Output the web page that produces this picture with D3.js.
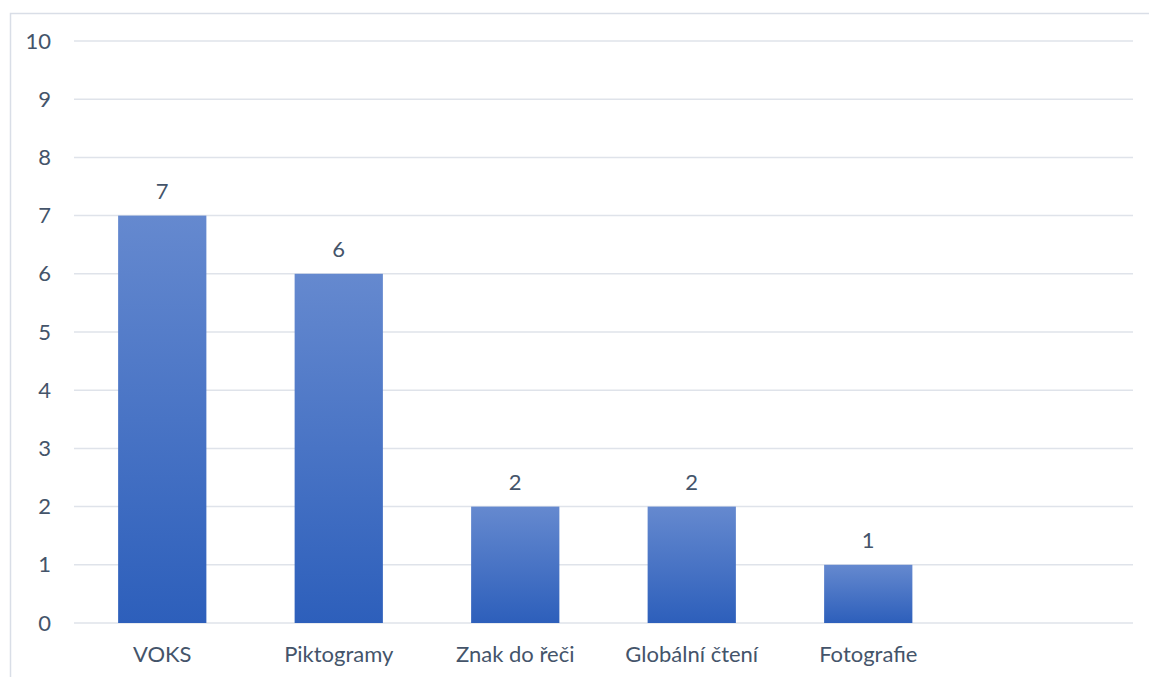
<!DOCTYPE html>
<html>
<head>
<meta charset="utf-8">
<script src="https://cdn.jsdelivr.net/npm/d3@7"></script>
<style>
  body { margin: 0; background: #fff; }
  svg text { font-family: Lato, "Open Sans", sans-serif; fill: #44546a; font-size: 22px; }
</style>
</head>
<body>
<div id="chart"></div>
<script>
// categories and values (last category is empty in the original)
const categories = ["VOKS", "Piktogramy", "Znak do řeči", "Globální čtení", "Fotografie", ""];
const values = [7, 6, 2, 2, 1, null];
const yTicks = [0, 1, 2, 3, 4, 5, 6, 7, 8, 9, 10];

const W = 1149, H = 677;
const margin = { top: 41, right: 16, bottom: 54, left: 74 };
const width = W - margin.left - margin.right,
  height = H - margin.top - margin.bottom;

const root = d3.select("#chart").append("svg")
  .attr("width", W).attr("height", H);

// gradient for bars
const grad = root.append("defs").append("linearGradient")
  .attr("id", "barGrad")
  .attr("x1", 0).attr("y1", 0).attr("x2", 0).attr("y2", 1);
grad.append("stop").attr("offset", "0%").attr("stop-color", "#6589cf");
grad.append("stop").attr("offset", "100%").attr("stop-color", "#2d5fbb");

// chart area border
root.append("rect")
  .attr("x", 10.5).attr("y", 13.5)
  .attr("width", W).attr("height", H)
  .attr("fill", "none").attr("stroke", "#d9dee7").attr("stroke-width", 1.5);

const svg = root.append("g")
  .attr("transform", `translate(${margin.left},${margin.top})`);

const x = d3.scaleBand().domain(categories.map((d, i) => i)).range([0, width]).padding(0);
const y = d3.scaleLinear().domain([0, 10]).range([height, 0]);

// gridlines
svg.append("g")
  .selectAll("line")
  .data(yTicks)
  .join("line")
  .attr("x1", 0).attr("x2", width)
  .attr("y1", (d) => y(d)).attr("y2", (d) => y(d))
  .attr("stroke", "#dfe3ea").attr("stroke-width", 1.5);

// y axis labels
const yAxis = svg.append("g")
  .attr("transform", "translate(-23,0)")
  .call(d3.axisLeft(y).tickValues(yTicks).tickSize(0).tickPadding(0));
yAxis.select(".domain").remove();
yAxis.selectAll("text").attr("font-size", 22).attr("font-family", null).attr("fill", null);

// x axis labels
const xAxis = svg.append("g")
  .attr("transform", `translate(0,${height})`)
  .call(d3.axisBottom(x).tickSize(0).tickFormat((i) => categories[i]));
xAxis.select(".domain").remove();
xAxis.selectAll("text")
  .attr("font-size", 22).attr("font-family", null).attr("fill", null)
  .attr("dy", null).attr("y", 39);

// bars
const barW = x.bandwidth() * 0.5;
const data = values.map((v, i) => ({ i, v })).filter((d) => d.v != null);

svg.selectAll("rect.bar")
  .data(data)
  .join("rect")
  .attr("class", "bar")
  .attr("x", (d) => x(d.i) + (x.bandwidth() - barW) / 2)
  .attr("y", (d) => y(d.v))
  .attr("width", barW)
  .attr("height", (d) => height - y(d.v))
  .attr("fill", "url(#barGrad)");

// data labels
svg.selectAll("text.lbl")
  .data(data)
  .join("text")
  .attr("class", "lbl")
  .attr("text-anchor", "middle")
  .attr("x", (d) => x(d.i) + x.bandwidth() / 2)
  .attr("y", (d) => y(d.v) - 17)
  .text((d) => d.v);
</script>
</body>
</html>
